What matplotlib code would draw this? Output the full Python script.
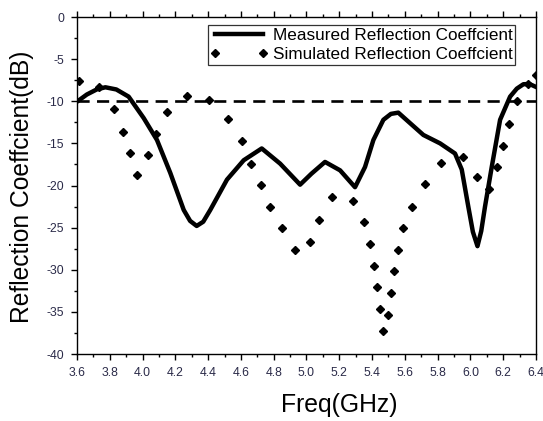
import matplotlib.pyplot as plt
from matplotlib.ticker import MultipleLocator

# measured reflection coefficient (traced)
meas_f = [3.60, 3.66, 3.72, 3.773, 3.84, 3.915, 4.007, 4.088, 4.169, 4.251, 4.29, 4.33,
          4.37, 4.413, 4.515, 4.617, 4.727, 4.839, 4.961, 5.03, 5.113, 5.205, 5.296,
          5.357, 5.408, 5.469, 5.515, 5.560, 5.632, 5.713, 5.815, 5.906, 5.947, 5.987,
          6.015, 6.043, 6.066, 6.089, 6.130, 6.181, 6.242, 6.283, 6.323, 6.36, 6.40]
meas_db = [-10.05, -9.2, -8.6, -8.34, -8.6, -9.45, -12.0, -14.6, -18.5, -22.9, -24.2, -24.8,
           -24.3, -22.9, -19.3, -17.0, -15.6, -17.4, -19.9, -18.6, -17.2, -18.2, -20.2,
           -17.8, -14.6, -12.2, -11.5, -11.35, -12.6, -14.0, -15.0, -16.2, -18.1, -22.5,
           -25.5, -27.2, -25.4, -22.5, -17.8, -12.2, -9.45, -8.5, -7.98, -7.95, -8.3]

# simulated reflection coefficient (dotted, read dot by dot)
sim_f = [3.612, 3.734, 3.828, 3.879, 3.921, 3.968, 4.031, 4.080, 4.147, 4.271, 4.403,
         4.523, 4.605, 4.662, 4.723, 4.778, 4.853, 4.928, 5.022, 5.077, 5.157, 5.286,
         5.353, 5.388, 5.414, 5.432, 5.450, 5.469, 5.495, 5.514, 5.532, 5.556, 5.591,
         5.646, 5.723, 5.819, 5.953, 6.043, 6.116, 6.161, 6.197, 6.236, 6.283, 6.354, 6.398]
sim_db = [-7.56, -8.34, -10.9, -13.6, -16.2, -18.7, -16.4, -13.9, -11.3, -9.33, -9.8,
          -12.1, -14.7, -17.4, -19.9, -22.6, -25.1, -27.7, -26.7, -24.1, -21.4, -21.8,
          -24.3, -26.9, -29.5, -32.1, -34.7, -37.3, -35.4, -32.8, -30.2, -27.6, -25.1,
          -22.5, -19.8, -17.3, -16.6, -19.0, -20.4, -17.8, -15.3, -12.7, -10.0, -7.9, -6.9]

thresh_f = [3.6, 6.4]
thresh_db = [-10, -10]

plt.rcParams['font.family'] = ['Liberation Sans', 'DejaVu Sans']

fig = plt.figure(figsize=(5.43, 4.21), dpi=100)
ax = fig.add_axes([0.1418, 0.1591, 0.8453, 0.8005])

ax.plot(meas_f, meas_db, color='black', lw=3.2, solid_joinstyle='round',
        label='Measured Reflection Coeffcient')
ax.plot(sim_f, sim_db, linestyle='none', marker='D', markersize=3.6, color='black',
        label='Simulated Reflection Coeffcient')
ax.plot(thresh_f, thresh_db, color='black', lw=1.9, dashes=(4.6, 2.8))

ax.set_xlim(3.6, 6.4)
ax.set_ylim(-40, 0)
ax.xaxis.set_major_locator(MultipleLocator(0.2))
ax.xaxis.set_minor_locator(MultipleLocator(0.1))
ax.yaxis.set_major_locator(MultipleLocator(5))
ax.yaxis.set_minor_locator(MultipleLocator(2.5))
ax.xaxis.set_major_formatter(plt.FuncFormatter(lambda v, p: f'{v:.1f}'))
ax.yaxis.set_major_formatter(plt.FuncFormatter(lambda v, p: f'{v:.0f}'))

tick_col = '#2a2a48'
ax.tick_params(which='both', direction='out', top=True, right=False, width=1.0,
               labelsize=8.8, labelcolor=tick_col)
ax.tick_params(which='major', length=4.5, pad=4.5)
ax.tick_params(which='minor', length=2.5)
for s in ax.spines.values():
    s.set_linewidth(1.0)

fig.text(0.041, 0.557, 'Reflection Coeffcient(dB)', rotation=90, fontsize=17.7,
         ha='center', va='center')
fig.text(0.624, 0.038, 'Freq(GHz)', fontsize=17.8, ha='center', va='center')

leg = ax.legend(loc='upper right', bbox_to_anchor=(0.954, 0.976), numpoints=2,
                fontsize=12.3, handlelength=3.4, handletextpad=0.25, borderpad=0.15,
                labelspacing=0.28, fancybox=False, framealpha=1, borderaxespad=0)
leg.get_frame().set_edgecolor('#333333')
leg.get_frame().set_linewidth(0.9)

fig.savefig('out.png', dpi=100)
